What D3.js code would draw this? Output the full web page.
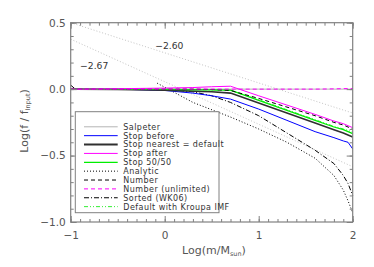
<!DOCTYPE html>
<html><head><meta charset="utf-8">
<script src="https://cdn.jsdelivr.net/npm/d3@7"></script>
<style>body{margin:0;background:#fff}svg{display:block}</style>
</head><body>
<script>
// ---- data ----
const massGrid = [-1, -0.95, -0.5, 0, 0.3, 0.5, 0.7, 1.0, 1.3, 1.6, 1.8, 1.9, 1.95, 2.0];
const salpeter   = [0, 0, 0, 0, 0, 0, 0, 0, 0, 0, 0, 0, 0, 0];
const stopBefore = [0, 0, 0, -0.01, -0.03, -0.05, -0.075, -0.15, -0.235, -0.32, -0.365, -0.39, -0.40, -0.45];
const stopNearest= [0, 0, -0.003, -0.008, -0.015, -0.02, -0.03, -0.105, -0.18, -0.255, -0.305, -0.33, -0.345, -0.36];
const stopAfter  = [0, 0, 0.003, 0.008, 0.012, 0.018, 0.022, -0.05, -0.12, -0.19, -0.24, -0.26, -0.275, -0.29];
const stop5050   = [0, 0, 0, -0.002, -0.004, -0.005, -0.008, -0.085, -0.16, -0.235, -0.285, -0.305, -0.32, -0.335];
const numberN    = [0, 0, 0, 0, 0, -0.003, -0.01, -0.07, -0.135, -0.2, -0.25, -0.27, -0.285, -0.30];
const numberUnl  = [0, 0, 0, 0, 0, 0, 0, 0, 0, 0, 0.002, 0.004, 0.004, 0.004];
const sortedWK06 = [0.03, 0, 0, -0.005, -0.02, -0.05, -0.1, -0.2, -0.33, -0.46, -0.56, -0.65, -0.71, -0.80];
const kroupa     = [0.005, 0, 0, -0.002, -0.004, -0.006, -0.01, -0.08, -0.155, -0.23, -0.28, -0.30, -0.31, -0.325];
const analyticX  = [-0.08, 0.3, 0.7, 1.0, 1.3, 1.6, 1.8, 1.9, 1.95, 2.0];
const analyticY  = [0.045, -0.1, -0.21, -0.3, -0.40, -0.52, -0.65, -0.76, -0.84, -0.93];
const refLineX   = [-1, 2];
const slope260   = [0.5, -0.18];
const slope267   = [0.376, -0.584];
const refLabels  = ["\u22122.60", "\u22122.67"];
const xTicks = [-1, 0, 1, 2];
const yTicks = [-1.0, -0.5, 0.0, 0.5];
const legendNames = ["Salpeter","Stop before","Stop nearest = default","Stop after","Stop 50/50","Analytic","Number","Number (unlimited)","Sorted (WK06)","Default with Kroupa IMF"];

// ---- layout ----
const W = 374, H = 267;
const L = 70.7, R = 352.7, T = 22.7, B = 222;
const x = d3.scaleLinear().domain([-1, 2]).range([L, R]);
const y = d3.scaleLinear().domain([-1, 0.5]).range([B, T]);
const font = "DejaVu Sans, sans-serif";
const axisCol = "#808080", textCol = "#555";

const svg = d3.select("body").append("svg").attr("width", W).attr("height", H);

// reference slope lines
const line2 = d3.line().x(d => x(d[0])).y(d => y(d[1]));
[slope260, slope267].forEach(v => {
  svg.append("path").attr("d", line2(refLineX.map((xx, i) => [xx, v[i]])))
    .attr("fill", "none").attr("stroke", "#c4c4c4").attr("stroke-width", 1).attr("stroke-dasharray", "1,2");
});
svg.append("text").attr("x", x(-0.1)).attr("y", y(0.3)).text(refLabels[0])
  .attr("font-family", font).attr("font-size", 9.2).attr("fill", "#333");
svg.append("text").attr("x", x(-0.9)).attr("y", y(0.15)).text(refLabels[1])
  .attr("font-family", font).attr("font-size", 9.2).attr("fill", "#333");

// series
const series = [
  {name: legendNames[0], v: salpeter,   c: "#b4b4b4", w: 1,   d: null},
  {name: legendNames[1], v: stopBefore, c: "#0000ff", w: 1,   d: null},
  {name: legendNames[2], v: stopNearest,c: "#303030", w: 1.6, d: null},
  {name: legendNames[3], v: stopAfter,  c: "#ff00ff", w: 1,   d: null},
  {name: legendNames[4], v: stop5050,   c: "#00ee00", w: 1.2, d: null},
  {name: legendNames[5], v: null,       c: "#000000", w: 1,   d: "1,2"},
  {name: legendNames[6], v: numberN,    c: "#000000", w: 1,   d: "4,3"},
  {name: legendNames[7], v: numberUnl,  c: "#ff00ff", w: 1,   d: "4,3"},
  {name: legendNames[8], v: sortedWK06, c: "#000000", w: 1,   d: "5,2,1,2"},
  {name: legendNames[9], v: kroupa,     c: "#33ee33", w: 1,   d: "4,2,1,2,1,2"}
];
const line = d3.line().x(d => x(d[0])).y(d => y(d[1]));
const drawOrder = [0, 5, 8, 1, 2, 9, 4, 6, 3, 7];
drawOrder.forEach(i => {
  const s = series[i];
  const pts = s.v ? massGrid.map((m, k) => [m, s.v[k]]) : analyticX.map((m, k) => [m, analyticY[k]]);
  const p = svg.append("path").attr("d", line(pts)).attr("fill", "none")
    .attr("stroke", s.c).attr("stroke-width", s.w);
  if (s.d) p.attr("stroke-dasharray", s.d);
});

// axes (ticks inward, IDL style)
function styleAxis(g) {
  g.select(".domain").remove();
  g.selectAll("line").attr("stroke", axisCol);
  g.selectAll("text").attr("fill", textCol).attr("font-family", font).attr("font-size", 10.5);
}
const minorX = d3.range(-10, 21).map(i => i / 10);
const minorY = d3.range(-10, 6).map(i => i / 10);
svg.append("g").attr("transform", `translate(0,${B})`)
  .call(d3.axisBottom(x).tickValues(minorX).tickSize(-3).tickFormat("")).call(styleAxis);
svg.append("g").attr("transform", `translate(0,${B})`)
  .call(d3.axisBottom(x).tickValues(xTicks).tickSize(-6).tickPadding(10).tickFormat(d3.format("d"))).call(styleAxis);
svg.append("g").attr("transform", `translate(0,${T})`)
  .call(d3.axisTop(x).tickValues(minorX).tickSize(-3).tickFormat("")).call(styleAxis);
svg.append("g").attr("transform", `translate(0,${T})`)
  .call(d3.axisTop(x).tickValues(xTicks).tickSize(-6).tickFormat("")).call(styleAxis);
svg.append("g").attr("transform", `translate(${L},0)`)
  .call(d3.axisLeft(y).tickValues(minorY).tickSize(-3).tickFormat("")).call(styleAxis);
svg.append("g").attr("transform", `translate(${L},0)`)
  .call(d3.axisLeft(y).tickValues(yTicks).tickSize(-6).tickPadding(5).tickFormat(d3.format(".1f"))).call(styleAxis);
svg.append("g").attr("transform", `translate(${R},0)`)
  .call(d3.axisRight(y).tickValues(minorY).tickSize(-3).tickFormat("")).call(styleAxis);
svg.append("g").attr("transform", `translate(${R},0)`)
  .call(d3.axisRight(y).tickValues(yTicks).tickSize(-6).tickFormat("")).call(styleAxis);
svg.append("rect").attr("x", L).attr("y", T).attr("width", R - L).attr("height", B - T)
  .attr("fill", "none").attr("stroke", axisCol).attr("stroke-width", 1.2);

// axis titles
const xl = svg.append("text").attr("x", 214).attr("y", 254).attr("text-anchor", "middle")
  .attr("font-family", font).attr("font-size", 11).attr("fill", textCol);
xl.append("tspan").text("Log(m/M");
xl.append("tspan").attr("font-size", 6.5).attr("dy", 2).text("sun");
xl.append("tspan").attr("dy", -2).text(")");
const yl = svg.append("text").attr("transform", "translate(28,121) rotate(-90)").attr("text-anchor", "middle")
  .attr("font-family", font).attr("font-size", 11).attr("fill", textCol);
yl.append("tspan").text("Log(f / f");
yl.append("tspan").attr("font-size", 6.5).attr("dy", 2).text("Input");
yl.append("tspan").attr("dy", -2).text(")");

// legend
const lg = svg.append("g");
lg.append("rect").attr("x", 75.3).attr("y", 111.7).attr("width", 143.7).attr("height", 101)
  .attr("fill", "#fff").attr("stroke", axisCol).attr("stroke-width", 1);
series.forEach((s, i) => {
  const yy = 126.8 + i * 8.87;
  const l = lg.append("line").attr("x1", 84).attr("x2", 117.7).attr("y1", yy).attr("y2", yy)
    .attr("stroke", s.c).attr("stroke-width", s.w === 1.6 ? 2 : s.w);
  if (s.d) l.attr("stroke-dasharray", s.d);
  lg.append("text").attr("x", 123.3).attr("y", yy + 2.9).text(s.name)
    .attr("font-family", font).attr("font-size", 8).attr("letter-spacing", 0.45).attr("fill", "#333");
});
</script>
</body></html>
